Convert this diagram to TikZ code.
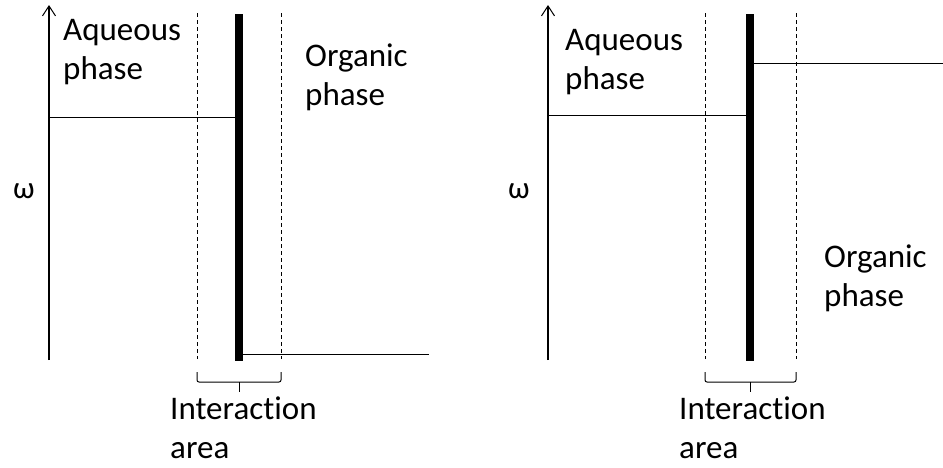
\documentclass[tikz,border=0pt]{standalone}
\usepackage{fontspec}
\setmainfont{Carlito}[Ligatures={NoCommon,NoRare},RawFeature={-liga;-dlig;-clig}]
\usetikzlibrary{arrows.meta}
\begin{document}
\begin{tikzpicture}[x=1pt,y=-1pt,
  label text/.style={font=\fontsize{33}{39}\selectfont, inner sep=0pt, anchor=base west, align=left},
  omega text/.style={font=\fontsize{31}{39}\selectfont, inner sep=0pt, anchor=base west},
  axisline/.style={line width=1.1pt, -{Straight Barb[length=10pt,width=13pt,line width=1pt]}},
  profile/.style={line width=1pt},
  boundary/.style={line width=0.9pt, dash pattern=on 4pt off 3pt},
  membrane/.style={line width=8.5pt},
  bracket/.style={line width=1pt, rounded corners=2pt}]
\useasboundingbox (0,0) rectangle (943,467);

% ---------- left panel ----------
\coordinate (Lo) at (49,360);
\coordinate (Ltop) at (49,5);
\draw[axisline] (Lo) -- (Ltop);
\coordinate (Lda) at (197,13); \coordinate (Ldb) at (197,359);
\coordinate (Ldc) at (281,13); \coordinate (Ldd) at (281,359);
\draw[boundary] (Lda) -- (Ldb);
\draw[boundary] (Ldc) -- (Ldd);
\coordinate (Lma) at (239,14); \coordinate (Lmb) at (239,361);
\draw[membrane] (Lma) -- (Lmb);
\coordinate (Laq0) at (49,117); \coordinate (Laq1) at (235,117);
\draw[profile] (Laq0) -- (Laq1);
\coordinate (Lor0) at (243,354); \coordinate (Lor1) at (429,354);
\draw[profile] (Lor0) -- (Lor1);
\coordinate (Lba) at (197,372); \coordinate (Lbb) at (281,372);
\coordinate (Lbt) at (239,392);
\draw[bracket] (Lba) -- (197,382) -- (281,382) -- (Lbb);
\draw[profile] (239,382) -- (Lbt);

% labels are placed by the baseline of their last line
\node[label text] (Laqueous) at (63,79) {Aqueous\\phase};
\node[label text] (Lorganic) at (305,105) {Organic\\phase};
\node[label text] (Linter) at (170,458) {Interaction\\area};
\node[omega text] (Lomega) at (13,198) {ω};

% ---------- right panel ----------
\coordinate (Ro) at (548,360);
\coordinate (Rtop) at (548,5);
\draw[axisline] (Ro) -- (Rtop);
\coordinate (Rda) at (705,13); \coordinate (Rdb) at (705,359);
\coordinate (Rdc) at (796,13); \coordinate (Rdd) at (796,359);
\draw[boundary] (Rda) -- (Rdb);
\draw[boundary] (Rdc) -- (Rdd);
\coordinate (Rma) at (750,14); \coordinate (Rmb) at (750,361);
\draw[membrane] (Rma) -- (Rmb);
\coordinate (Raq0) at (548,115); \coordinate (Raq1) at (746,115);
\draw[profile] (Raq0) -- (Raq1);
\coordinate (Ror0) at (754,63); \coordinate (Ror1) at (943,63);
\draw[profile] (Ror0) -- (Ror1);
\coordinate (Rba) at (705,372); \coordinate (Rbb) at (796,372);
\coordinate (Rbt) at (750,392);
\draw[bracket] (Rba) -- (705,382) -- (796,382) -- (Rbb);
\draw[profile] (750,382) -- (Rbt);

\node[label text] (Raqueous) at (565,89) {Aqueous\\phase};
\node[label text] (Rorganic) at (824,306) {Organic\\phase};
\node[label text] (Rinter) at (679,458) {Interaction\\area};
\node[omega text] (Romega) at (508,198) {ω};
\end{tikzpicture}
\end{document}
